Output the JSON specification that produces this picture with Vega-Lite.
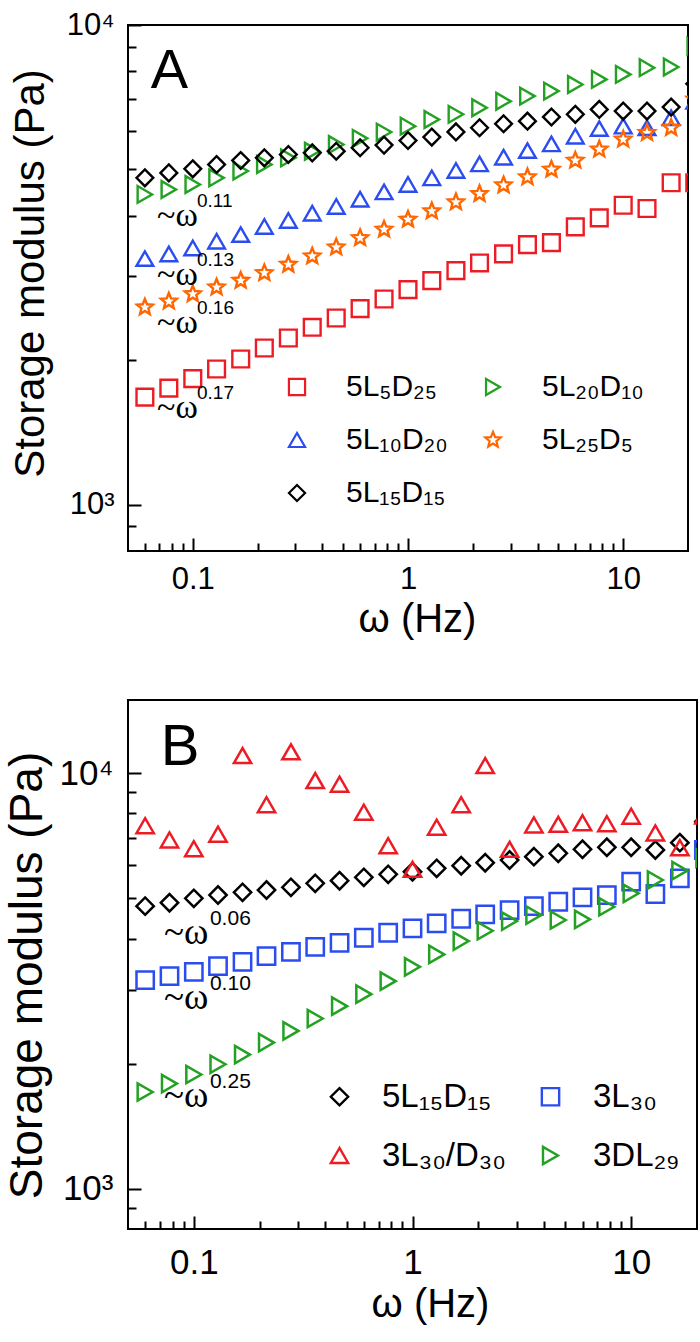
{
  "$schema": "https://vega.github.io/schema/vega-lite/v6.json",
  "padding": {"left": 3, "top": 8, "right": 2, "bottom": 2},
  "spacing": 59,
  "resolve": {"scale": {"color": "independent", "shape": "independent"}, "legend": {"color": "independent", "shape": "independent"}},
  "datasets": {
    "pointsA": [
      {"f": 0.0599, "G": 1675, "s": "5L₅D₂₅"}, {"f": 0.0774, "G": 1749, "s": "5L₅D₂₅"}, {"f": 0.1, "G": 1830, "s": "5L₅D₂₅"},
      {"f": 0.129, "G": 1917, "s": "5L₅D₂₅"}, {"f": 0.167, "G": 2011, "s": "5L₅D₂₅"}, {"f": 0.215, "G": 2120, "s": "5L₅D₂₅"},
      {"f": 0.278, "G": 2225, "s": "5L₅D₂₅"}, {"f": 0.359, "G": 2342, "s": "5L₅D₂₅"}, {"f": 0.464, "G": 2449, "s": "5L₅D₂₅"},
      {"f": 0.599, "G": 2562, "s": "5L₅D₂₅"}, {"f": 0.774, "G": 2683, "s": "5L₅D₂₅"}, {"f": 1, "G": 2806, "s": "5L₅D₂₅"},
      {"f": 1.29, "G": 2931, "s": "5L₅D₂₅"}, {"f": 1.67, "G": 3075, "s": "5L₅D₂₅"}, {"f": 2.15, "G": 3190, "s": "5L₅D₂₅"},
      {"f": 2.78, "G": 3331, "s": "5L₅D₂₅"}, {"f": 3.59, "G": 3483, "s": "5L₅D₂₅"}, {"f": 4.64, "G": 3518, "s": "5L₅D₂₅"},
      {"f": 5.99, "G": 3793, "s": "5L₅D₂₅"}, {"f": 7.74, "G": 3960, "s": "5L₅D₂₅"}, {"f": 10, "G": 4209, "s": "5L₅D₂₅"},
      {"f": 12.9, "G": 4143, "s": "5L₅D₂₅"}, {"f": 16.7, "G": 4688, "s": "5L₅D₂₅"}, {"f": 21.5, "G": 4688, "s": "5L₅D₂₅"},

      {"f": 0.0599, "G": 4433, "s": "5L₂₀D₁₀"}, {"f": 0.0774, "G": 4539, "s": "5L₂₀D₁₀"}, {"f": 0.1, "G": 4649, "s": "5L₂₀D₁₀"},
      {"f": 0.129, "G": 4800, "s": "5L₂₀D₁₀"}, {"f": 0.167, "G": 4960, "s": "5L₂₀D₁₀"}, {"f": 0.215, "G": 5117, "s": "5L₂₀D₁₀"},
      {"f": 0.278, "G": 5284, "s": "5L₂₀D₁₀"}, {"f": 0.359, "G": 5455, "s": "5L₂₀D₁₀"}, {"f": 0.464, "G": 5632, "s": "5L₂₀D₁₀"},
      {"f": 0.599, "G": 5802, "s": "5L₂₀D₁₀"}, {"f": 0.774, "G": 5980, "s": "5L₂₀D₁₀"}, {"f": 1, "G": 6152, "s": "5L₂₀D₁₀"},
      {"f": 1.29, "G": 6353, "s": "5L₂₀D₁₀"}, {"f": 1.67, "G": 6512, "s": "5L₂₀D₁₀"}, {"f": 2.15, "G": 6721, "s": "5L₂₀D₁₀"},
      {"f": 2.78, "G": 6934, "s": "5L₂₀D₁₀"}, {"f": 3.59, "G": 7108, "s": "5L₂₀D₁₀"}, {"f": 4.64, "G": 7280, "s": "5L₂₀D₁₀"},
      {"f": 5.99, "G": 7516, "s": "5L₂₀D₁₀"}, {"f": 7.74, "G": 7702, "s": "5L₂₀D₁₀"}, {"f": 10, "G": 7889, "s": "5L₂₀D₁₀"},
      {"f": 12.9, "G": 8147, "s": "5L₂₀D₁₀"}, {"f": 16.7, "G": 8172, "s": "5L₂₀D₁₀"}, {"f": 21.5, "G": 9036, "s": "5L₂₀D₁₀"},

      {"f": 0.0599, "G": 3258, "s": "5L₁₀D₂₀"}, {"f": 0.0774, "G": 3331, "s": "5L₁₀D₂₀"}, {"f": 0.1, "G": 3428, "s": "5L₁₀D₂₀"},
      {"f": 0.129, "G": 3540, "s": "5L₁₀D₂₀"}, {"f": 0.167, "G": 3656, "s": "5L₁₀D₂₀"}, {"f": 0.215, "G": 3800, "s": "5L₁₀D₂₀"},
      {"f": 0.278, "G": 3912, "s": "5L₁₀D₂₀"}, {"f": 0.359, "G": 4051, "s": "5L₁₀D₂₀"}, {"f": 0.464, "G": 4183, "s": "5L₁₀D₂₀"},
      {"f": 0.599, "G": 4332, "s": "5L₁₀D₂₀"}, {"f": 0.774, "G": 4487, "s": "5L₁₀D₂₀"}, {"f": 1, "G": 4650, "s": "5L₁₀D₂₀"},
      {"f": 1.29, "G": 4800, "s": "5L₁₀D₂₀"}, {"f": 1.67, "G": 4973, "s": "5L₁₀D₂₀"}, {"f": 2.15, "G": 5133, "s": "5L₁₀D₂₀"},
      {"f": 2.78, "G": 5300, "s": "5L₁₀D₂₀"}, {"f": 3.59, "G": 5472, "s": "5L₁₀D₂₀"}, {"f": 4.64, "G": 5650, "s": "5L₁₀D₂₀"},
      {"f": 5.99, "G": 5862, "s": "5L₁₀D₂₀"}, {"f": 7.74, "G": 6083, "s": "5L₁₀D₂₀"}, {"f": 10, "G": 6152, "s": "5L₁₀D₂₀"},
      {"f": 12.9, "G": 6104, "s": "5L₁₀D₂₀"}, {"f": 16.7, "G": 6406, "s": "5L₁₀D₂₀"}, {"f": 21.5, "G": 6934, "s": "5L₁₀D₂₀"},

      {"f": 0.0599, "G": 2578, "s": "5L₂₅D₅"}, {"f": 0.0774, "G": 2653, "s": "5L₂₅D₅"}, {"f": 0.1, "G": 2748, "s": "5L₂₅D₅"},
      {"f": 0.129, "G": 2838, "s": "5L₂₅D₅"}, {"f": 0.167, "G": 2931, "s": "5L₂₅D₅"}, {"f": 0.215, "G": 3040, "s": "5L₂₅D₅"},
      {"f": 0.278, "G": 3166, "s": "5L₂₅D₅"}, {"f": 0.359, "G": 3295, "s": "5L₂₅D₅"}, {"f": 0.464, "G": 3440, "s": "5L₂₅D₅"},
      {"f": 0.599, "G": 3597, "s": "5L₂₅D₅"}, {"f": 0.774, "G": 3746, "s": "5L₂₅D₅"}, {"f": 1, "G": 3930, "s": "5L₂₅D₅"},
      {"f": 1.29, "G": 4091, "s": "5L₂₅D₅"}, {"f": 1.67, "G": 4271, "s": "5L₂₅D₅"}, {"f": 2.15, "G": 4445, "s": "5L₂₅D₅"},
      {"f": 2.78, "G": 4634, "s": "5L₂₅D₅"}, {"f": 3.59, "G": 4816, "s": "5L₂₅D₅"}, {"f": 4.64, "G": 4997, "s": "5L₂₅D₅"},
      {"f": 5.99, "G": 5218, "s": "5L₂₅D₅"}, {"f": 7.74, "G": 5503, "s": "5L₂₅D₅"}, {"f": 10, "G": 5774, "s": "5L₂₅D₅"},
      {"f": 12.9, "G": 5960, "s": "5L₂₅D₅"}, {"f": 16.7, "G": 6105, "s": "5L₂₅D₅"}, {"f": 21.5, "G": 7000, "s": "5L₂₅D₅"},

      {"f": 0.0599, "G": 4800, "s": "5L₁₅D₁₅"}, {"f": 0.0774, "G": 4916, "s": "5L₁₅D₁₅"}, {"f": 0.1, "G": 5012, "s": "5L₁₅D₁₅"},
      {"f": 0.129, "G": 5117, "s": "5L₁₅D₁₅"}, {"f": 0.167, "G": 5218, "s": "5L₁₅D₁₅"}, {"f": 0.215, "G": 5284, "s": "5L₁₅D₁₅"},
      {"f": 0.278, "G": 5370, "s": "5L₁₅D₁₅"}, {"f": 0.359, "G": 5412, "s": "5L₁₅D₁₅"}, {"f": 0.464, "G": 5455, "s": "5L₁₅D₁₅"},
      {"f": 0.599, "G": 5546, "s": "5L₁₅D₁₅"}, {"f": 0.774, "G": 5617, "s": "5L₁₅D₁₅"}, {"f": 1, "G": 5742, "s": "5L₁₅D₁₅"},
      {"f": 1.29, "G": 5838, "s": "5L₁₅D₁₅"}, {"f": 1.67, "G": 5985, "s": "5L₁₅D₁₅"}, {"f": 2.15, "G": 6105, "s": "5L₁₅D₁₅"},
      {"f": 2.78, "G": 6223, "s": "5L₁₅D₁₅"}, {"f": 3.59, "G": 6302, "s": "5L₁₅D₁₅"}, {"f": 4.64, "G": 6430, "s": "5L₁₅D₁₅"},
      {"f": 5.99, "G": 6512, "s": "5L₁₅D₁₅"}, {"f": 7.74, "G": 6668, "s": "5L₁₅D₁₅"}, {"f": 10, "G": 6614, "s": "5L₁₅D₁₅"},
      {"f": 12.9, "G": 6614, "s": "5L₁₅D₁₅"}, {"f": 16.7, "G": 6743, "s": "5L₁₅D₁₅"}, {"f": 21.5, "G": 7542, "s": "5L₁₅D₁₅"}
    ],
    "pointsB": [
      {"f": 0.0599, "G": 4787, "s": "5L₁₅D₁₅"}, {"f": 0.0774, "G": 4878, "s": "5L₁₅D₁₅"}, {"f": 0.1, "G": 4999, "s": "5L₁₅D₁₅"},
      {"f": 0.129, "G": 5090, "s": "5L₁₅D₁₅"}, {"f": 0.167, "G": 5168, "s": "5L₁₅D₁₅"}, {"f": 0.215, "G": 5234, "s": "5L₁₅D₁₅"},
      {"f": 0.278, "G": 5313, "s": "5L₁₅D₁₅"}, {"f": 0.359, "G": 5432, "s": "5L₁₅D₁₅"}, {"f": 0.464, "G": 5510, "s": "5L₁₅D₁₅"},
      {"f": 0.599, "G": 5615, "s": "5L₁₅D₁₅"}, {"f": 0.774, "G": 5709, "s": "5L₁₅D₁₅"}, {"f": 1, "G": 5792, "s": "5L₁₅D₁₅"},
      {"f": 1.29, "G": 5902, "s": "5L₁₅D₁₅"}, {"f": 1.67, "G": 5988, "s": "5L₁₅D₁₅"}, {"f": 2.15, "G": 6089, "s": "5L₁₅D₁₅"},
      {"f": 2.78, "G": 6180, "s": "5L₁₅D₁₅"}, {"f": 3.59, "G": 6296, "s": "5L₁₅D₁₅"}, {"f": 4.64, "G": 6415, "s": "5L₁₅D₁₅"},
      {"f": 5.99, "G": 6559, "s": "5L₁₅D₁₅"}, {"f": 7.74, "G": 6632, "s": "5L₁₅D₁₅"}, {"f": 10, "G": 6632, "s": "5L₁₅D₁₅"},
      {"f": 12.9, "G": 6534, "s": "5L₁₅D₁₅"}, {"f": 16.7, "G": 6803, "s": "5L₁₅D₁₅"}, {"f": 21.5, "G": 7645, "s": "5L₁₅D₁₅"},

      {"f": 0.0599, "G": 3177, "s": "3L₃₀"}, {"f": 0.0774, "G": 3248, "s": "3L₃₀"}, {"f": 0.1, "G": 3326, "s": "3L₃₀"},
      {"f": 0.129, "G": 3433, "s": "3L₃₀"}, {"f": 0.167, "G": 3516, "s": "3L₃₀"}, {"f": 0.215, "G": 3629, "s": "3L₃₀"},
      {"f": 0.278, "G": 3716, "s": "3L₃₀"}, {"f": 0.359, "G": 3821, "s": "3L₃₀"}, {"f": 0.464, "G": 3907, "s": "3L₃₀"},
      {"f": 0.599, "G": 4017, "s": "3L₃₀"}, {"f": 0.774, "G": 4130, "s": "3L₃₀"}, {"f": 1, "G": 4231, "s": "3L₃₀"},
      {"f": 1.29, "G": 4351, "s": "3L₃₀"}, {"f": 1.67, "G": 4463, "s": "3L₃₀"}, {"f": 2.15, "G": 4573, "s": "3L₃₀"},
      {"f": 2.78, "G": 4684, "s": "3L₃₀"}, {"f": 3.59, "G": 4788, "s": "3L₃₀"}, {"f": 4.64, "G": 4904, "s": "3L₃₀"},
      {"f": 5.99, "G": 5025, "s": "3L₃₀"}, {"f": 7.74, "G": 5090, "s": "3L₃₀"}, {"f": 10, "G": 5482, "s": "3L₃₀"},
      {"f": 12.9, "G": 5120, "s": "3L₃₀"}, {"f": 16.7, "G": 5585, "s": "3L₃₀"}, {"f": 21.5, "G": 6534, "s": "3L₃₀"},

      {"f": 0.0599, "G": 7477, "s": "3L₃₀/D₃₀"}, {"f": 0.0774, "G": 6907, "s": "3L₃₀/D₃₀"}, {"f": 0.1, "G": 6581, "s": "3L₃₀/D₃₀"},
      {"f": 0.129, "G": 7129, "s": "3L₃₀/D₃₀"}, {"f": 0.167, "G": 11025, "s": "3L₃₀/D₃₀"}, {"f": 0.215, "G": 8400, "s": "3L₃₀/D₃₀"},
      {"f": 0.278, "G": 11253, "s": "3L₃₀/D₃₀"}, {"f": 0.359, "G": 9598, "s": "3L₃₀/D₃₀"}, {"f": 0.464, "G": 9408, "s": "3L₃₀/D₃₀"},
      {"f": 0.599, "G": 8054, "s": "3L₃₀/D₃₀"}, {"f": 0.774, "G": 6691, "s": "3L₃₀/D₃₀"}, {"f": 1, "G": 5871, "s": "3L₃₀/D₃₀"},
      {"f": 1.29, "G": 7411, "s": "3L₃₀/D₃₀"}, {"f": 1.67, "G": 8400, "s": "3L₃₀/D₃₀"}, {"f": 2.15, "G": 10430, "s": "3L₃₀/D₃₀"},
      {"f": 2.78, "G": 6559, "s": "3L₃₀/D₃₀"}, {"f": 3.59, "G": 7506, "s": "3L₃₀/D₃₀"}, {"f": 4.64, "G": 7535, "s": "3L₃₀/D₃₀"},
      {"f": 5.99, "G": 7603, "s": "3L₃₀/D₃₀"}, {"f": 7.74, "G": 7561, "s": "3L₃₀/D₃₀"}, {"f": 10, "G": 7879, "s": "3L₃₀/D₃₀"},
      {"f": 12.9, "G": 7180, "s": "3L₃₀/D₃₀"}, {"f": 16.7, "G": 6617, "s": "3L₃₀/D₃₀"}, {"f": 21.5, "G": 7892, "s": "3L₃₀/D₃₀"},

      {"f": 0.0599, "G": 1709, "s": "3DL₂₉"}, {"f": 0.0774, "G": 1791, "s": "3DL₂₉"}, {"f": 0.1, "G": 1883, "s": "3DL₂₉"},
      {"f": 0.129, "G": 1993, "s": "3DL₂₉"}, {"f": 0.167, "G": 2103, "s": "3DL₂₉"}, {"f": 0.215, "G": 2247, "s": "3DL₂₉"},
      {"f": 0.278, "G": 2398, "s": "3DL₂₉"}, {"f": 0.359, "G": 2568, "s": "3DL₂₉"}, {"f": 0.464, "G": 2750, "s": "3DL₂₉"},
      {"f": 0.599, "G": 2939, "s": "3DL₂₉"}, {"f": 0.774, "G": 3158, "s": "3DL₂₉"}, {"f": 1, "G": 3420, "s": "3DL₂₉"},
      {"f": 1.29, "G": 3664, "s": "3DL₂₉"}, {"f": 1.67, "G": 3944, "s": "3DL₂₉"}, {"f": 2.15, "G": 4176, "s": "3DL₂₉"},
      {"f": 2.78, "G": 4407, "s": "3DL₂₉"}, {"f": 3.59, "G": 4556, "s": "3DL₂₉"}, {"f": 4.64, "G": 4432, "s": "3DL₂₉"},
      {"f": 5.99, "G": 4449, "s": "3DL₂₉"}, {"f": 7.74, "G": 4770, "s": "3DL₂₉"}, {"f": 10, "G": 5139, "s": "3DL₂₉"},
      {"f": 12.9, "G": 5533, "s": "3DL₂₉"}, {"f": 16.7, "G": 5826, "s": "3DL₂₉"}, {"f": 21.5, "G": 6251, "s": "3DL₂₉"}
    ],
    "notesA": [
      {"f": 0.0682, "G": 3806, "base": "~ω", "exp": "0.11"},
      {"f": 0.0682, "G": 2866, "base": "~ω", "exp": "0.13"},
      {"f": 0.0682, "G": 2275, "base": "~ω", "exp": "0.16"},
      {"f": 0.0682, "G": 1512, "base": "~ω", "exp": "0.17"}
    ],
    "notesB": [
      {"f": 0.073, "G": 3879, "base": "~ω", "exp": "0.06"},
      {"f": 0.073, "G": 2704, "base": "~ω", "exp": "0.10"},
      {"f": 0.073, "G": 1571, "base": "~ω", "exp": "0.25"}
    ]
  },
  "vconcat": [
    {
      "width": 560,
      "height": 526,
      "resolve": {"axis": {"x": "independent", "y": "independent"}},
      "layer": [
        {
          "data": {"name": "pointsA"},
          "mark": {"type": "point", "filled": false, "strokeWidth": 2.4, "size": 280, "clip": true, "opacity": 1},
          "encoding": {
            "x": {
              "field": "f", "type": "quantitative", "title": "ω (Hz)",
              "scale": {"type": "log", "domain": [0.05, 20], "nice": false},
              "axis": {
                "values": [0.1, 1, 10], "labelExpr": "datum.value == 0.1 ? '0.1' : datum.value == 1 ? '1' : '10'",
                "ticks": false, "tickSize": 0,
                "labelPadding": 13, "labelFontSize": 31, "titleFontSize": 40, "titlePadding": 5, "titleX": 289
              }
            },
            "y": {
              "field": "G", "type": "quantitative", "title": "Storage modulus (Pa)",
              "scale": {"type": "log", "domain": [800, 10000], "nice": false},
              "axis": {
                "values": [1000, 10000], "labelExpr": "datum.value == 1000 ? '10³' : '10⁴'",
                "ticks": false, "tickSize": 0,
                "labelPadding": 14, "labelFontSize": 31, "titleFontSize": 42, "titlePadding": 14, "titleY": 248
              }
            },
            "color": {
              "field": "s", "type": "nominal",
              "scale": {
                "domain": ["5L₅D₂₅", "5L₂₀D₁₀", "5L₁₀D₂₀", "5L₂₅D₅", "5L₁₅D₁₅"],
                "range": ["#ed1c24", "#22a122", "#2b4df0", "#ff6600", "#000000"]
              },
              "legend": {
                "title": null, "orient": "none", "direction": "horizontal", "legendX": 154, "legendY": 347, "columns": 2,
                "labelFontSize": 30, "labelOffset": 34, "rowPadding": 23, "columnPadding": 30,
                "symbolSize": 260, "symbolStrokeWidth": 2.2, "padding": 0, "labelColor": "black", "labelLimit": 0
              }
            },
            "shape": {
              "field": "s", "type": "nominal",
              "scale": {
                "domain": ["5L₅D₂₅", "5L₂₀D₁₀", "5L₁₀D₂₀", "5L₂₅D₅", "5L₁₅D₁₅"],
                "range": ["square", "triangle-right", "triangle-up", "M0,-1L0.26,-0.36L0.951,-0.309L0.42,0.137L0.588,0.809L0,0.44L-0.588,0.809L-0.42,0.137L-0.951,-0.309L-0.26,-0.36Z", "diamond"]
              }
            }
          }
        },
        {
          "data": {"name": "notesA"},
          "mark": {"type": "text", "font": "Liberation Serif", "fontSize": 34, "align": "left", "baseline": "alphabetic", "color": "black"},
          "encoding": {
            "x": {
              "field": "f", "type": "quantitative",
              "axis": {"orient": "top", "offset": -526, "values": [0.06, 0.07, 0.08, 0.09, 0.2, 0.3, 0.4, 0.5, 0.6, 0.7, 0.8, 0.9, 2, 3, 4, 5, 6, 7, 8, 9], "labels": false, "title": null, "domain": false, "ticks": true, "tickSize": 8, "tickColor": "black", "tickWidth": 2}
            },
            "y": {
              "field": "G", "type": "quantitative",
              "axis": {"orient": "right", "offset": -560, "values": [900, 2000, 3000, 4000, 5000, 6000, 7000, 8000, 9000], "labels": false, "title": null, "domain": false, "ticks": true, "tickSize": 8, "tickColor": "black", "tickWidth": 2}
            },
            "text": {"field": "base"}
          }
        },
        {
          "data": {"name": "notesA"},
          "mark": {"type": "text", "fontSize": 19, "align": "left", "baseline": "alphabetic", "dx": 40, "dy": -19, "color": "black"},
          "encoding": {
            "x": {
              "field": "f", "type": "quantitative",
              "axis": {"orient": "top", "offset": -526, "values": [0.1, 1, 10], "labels": false, "title": null, "domain": false, "ticks": true, "tickSize": 13, "tickColor": "black", "tickWidth": 2}
            },
            "y": {
              "field": "G", "type": "quantitative",
              "axis": {"orient": "right", "offset": -560, "values": [1000, 10000], "labels": false, "title": null, "domain": false, "ticks": true, "tickSize": 13, "tickColor": "black", "tickWidth": 2}
            },
            "text": {"field": "exp"}
          }
        },
        {
          "data": {"values": [{"f": 0.0638, "G": 7386, "label": "A"}]},
          "mark": {"type": "text", "fontSize": 56, "align": "left", "baseline": "alphabetic", "color": "black"},
          "encoding": {
            "x": {"field": "f", "type": "quantitative", "axis": null},
            "y": {"field": "G", "type": "quantitative", "axis": null},
            "text": {"field": "label"}
          }
        }
      ]
    },
    {
      "width": 569,
      "height": 529,
      "resolve": {"axis": {"x": "independent", "y": "independent"}},
      "layer": [
        {
          "data": {"name": "pointsB"},
          "mark": {"type": "point", "filled": false, "strokeWidth": 2.5, "size": 300, "clip": true, "opacity": 1},
          "encoding": {
            "x": {
              "field": "f", "type": "quantitative", "title": "ω (Hz)",
              "scale": {"type": "log", "domain": [0.05, 20], "nice": false},
              "axis": {
                "values": [0.1, 1, 10], "labelExpr": "datum.value == 0.1 ? '0.1' : datum.value == 1 ? '1' : '10'",
                "ticks": false, "tickSize": 0,
                "labelPadding": 16, "labelFontSize": 35, "titleFontSize": 40, "titlePadding": 4, "titleX": 302
              }
            },
            "y": {
              "field": "G", "type": "quantitative", "title": "Storage modulus (Pa)",
              "scale": {"type": "log", "domain": [800, 15000], "nice": false},
              "axis": {
                "values": [1000, 10000], "labelExpr": "datum.value == 1000 ? '10³' : '10⁴'",
                "ticks": false, "tickSize": 0,
                "labelPadding": 15, "labelFontSize": 35, "titleFontSize": 46, "titlePadding": 8, "titleY": 275
              }
            },
            "color": {
              "field": "s", "type": "nominal",
              "scale": {
                "domain": ["5L₁₅D₁₅", "3L₃₀", "3L₃₀/D₃₀", "3DL₂₉"],
                "range": ["#000000", "#2b4df0", "#ed1c24", "#22a122"]
              },
              "legend": {
                "title": null, "orient": "none", "direction": "horizontal", "legendX": 195, "legendY": 380, "columns": 2,
                "labelFontSize": 33, "labelOffset": 26, "rowPadding": 25, "columnPadding": 28,
                "symbolSize": 300, "symbolStrokeWidth": 2.4, "padding": 0, "labelColor": "black", "labelLimit": 0
              }
            },
            "shape": {
              "field": "s", "type": "nominal",
              "scale": {
                "domain": ["5L₁₅D₁₅", "3L₃₀", "3L₃₀/D₃₀", "3DL₂₉"],
                "range": ["diamond", "square", "triangle-up", "triangle-right"]
              }
            }
          }
        },
        {
          "data": {"name": "notesB"},
          "mark": {"type": "text", "font": "Liberation Serif", "fontSize": 37, "align": "left", "baseline": "alphabetic", "color": "black"},
          "encoding": {
            "x": {
              "field": "f", "type": "quantitative",
              "axis": {"orient": "top", "offset": -529, "values": [0.06, 0.07, 0.08, 0.09, 0.2, 0.3, 0.4, 0.5, 0.6, 0.7, 0.8, 0.9, 2, 3, 4, 5, 6, 7, 8, 9], "labels": false, "title": null, "domain": false, "ticks": true, "tickSize": 8, "tickColor": "black", "tickWidth": 2}
            },
            "y": {
              "field": "G", "type": "quantitative",
              "axis": {"orient": "right", "offset": -569, "values": [900, 2000, 3000, 4000, 5000, 6000, 7000, 8000, 9000], "labels": false, "title": null, "domain": false, "ticks": true, "tickSize": 8, "tickColor": "black", "tickWidth": 2}
            },
            "text": {"field": "base"}
          }
        },
        {
          "data": {"name": "notesB"},
          "mark": {"type": "text", "fontSize": 21, "align": "left", "baseline": "alphabetic", "dx": 46, "dy": -19, "color": "black"},
          "encoding": {
            "x": {
              "field": "f", "type": "quantitative",
              "axis": {"orient": "top", "offset": -529, "values": [0.1, 1, 10], "labels": false, "title": null, "domain": false, "ticks": true, "tickSize": 13, "tickColor": "black", "tickWidth": 2}
            },
            "y": {
              "field": "G", "type": "quantitative",
              "axis": {"orient": "right", "offset": -569, "values": [1000, 10000], "labels": false, "title": null, "domain": false, "ticks": true, "tickSize": 13, "tickColor": "black", "tickWidth": 2}
            },
            "text": {"field": "exp"}
          }
        },
        {
          "data": {"values": [{"f": 0.0705, "G": 10473, "label": "B"}]},
          "mark": {"type": "text", "fontSize": 58, "align": "left", "baseline": "alphabetic", "color": "black"},
          "encoding": {
            "x": {"field": "f", "type": "quantitative", "axis": null},
            "y": {"field": "G", "type": "quantitative", "axis": null},
            "text": {"field": "label"}
          }
        }
      ]
    }
  ],
  "config": {
    "font": "Liberation Sans",
    "view": {"stroke": "black", "strokeWidth": 2},
    "axis": {
      "grid": false, "domain": false,
      "labelColor": "black", "titleColor": "black", "labelFont": "Liberation Sans", "titleFont": "Liberation Sans",
      "titleFontWeight": "normal", "labelOverlap": false, "labelFlush": false
    },
    "legend": {"labelFont": "Liberation Sans"}
  }
}
